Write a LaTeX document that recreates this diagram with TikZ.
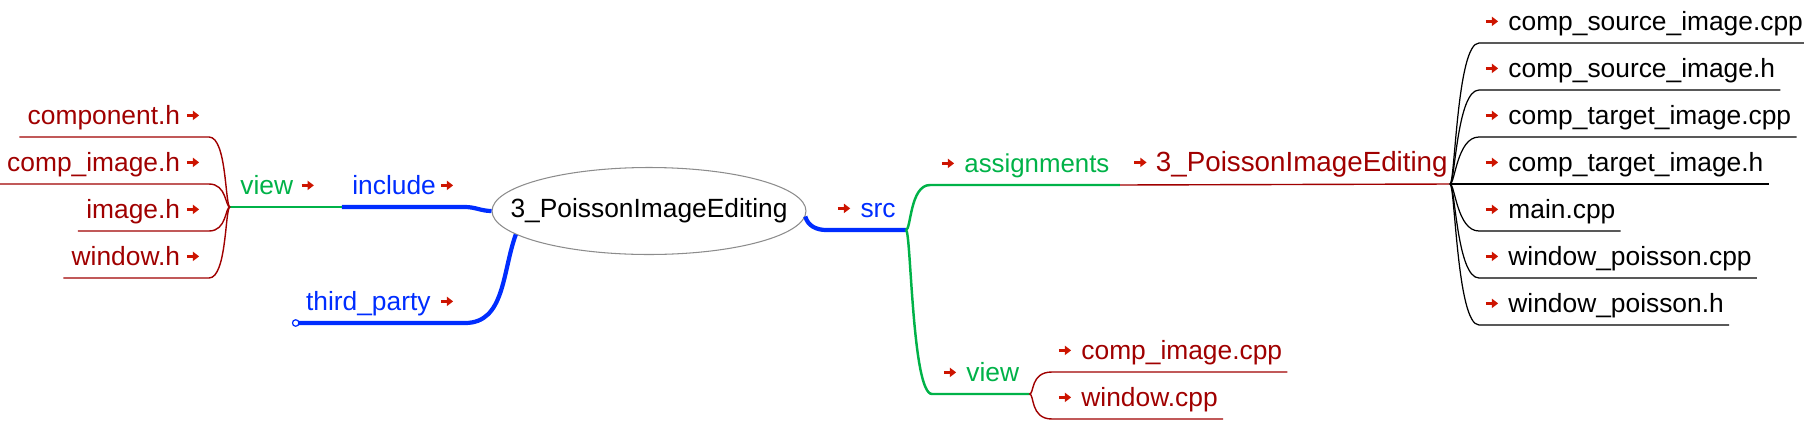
\documentclass[tikz,border=0pt]{standalone}
\usepackage{fontspec}
\setmainfont{Liberation Sans}
\usetikzlibrary{arrows.meta,shapes.geometric}

\definecolor{leafred}{RGB}{160,0,0}
\definecolor{tipred}{RGB}{205,20,0}
\definecolor{brgreen}{RGB}{0,178,72}
\definecolor{trblue}{RGB}{0,45,255}
\definecolor{rimgray}{RGB}{140,140,140}

% small link arrow beside a topic
\newcommand{\lnk}{\tikz[baseline=0pt]\draw[line width=1.7pt, tipred, -{Triangle[length=3.6pt,width=5.2pt]}] (0pt,5pt) -- (7pt,5pt);}

\begin{document}
\begin{tikzpicture}[
  x=0.02cm, y=-0.02cm,
  % Node styles
  topic/.style={font=\fontsize{15}{18}\selectfont, inner ysep=0pt, text height=11pt, text depth=7.1pt},
  root/.style={ellipse, draw=rimgray, line width=0.6pt, minimum width=6.28cm, minimum height=1.74cm, inner xsep=-0.55cm, inner ysep=0pt, font=\fontsize{15}{18}\selectfont},
  folder/.style={topic, text=trblue, inner xsep=0.2cm},
  sub/.style={topic, text=brgreen, inner xsep=0.2cm},
  leaf/.style={topic, text=leafred, inner xsep=0.1cm},
  file/.style={topic, text=black, inner xsep=0.1cm},
  % Edge styles
  trunk/.style={trblue, line width=2.4pt},
  branch/.style={brgreen, line width=1.4pt},
  twig/.style={leafred, line width=0.8pt},
  filetwig/.style={black, line width=0.7pt},
]
\useasboundingbox (0,0) rectangle (1804,420);

% === CENTER ===
\node[root] (root) at (649,211) {3\_PoissonImageEditing};

% === LEFT SIDE ===
\node[folder, anchor=south east] (inc) at (465,207) {include\hspace{2pt}\lnk};
\node[sub, anchor=south west]    (viewL) at (230,207) {view\hspace{4pt}\lnk};
\node[folder, anchor=south east] (tp)  at (465,323) {third\_party\hspace{5pt}\lnk};

\node[leaf, inner xsep=0.16cm, anchor=south east] (compH) at (209,137) {component.h\hspace{3pt}\lnk};
\node[leaf, inner xsep=0.16cm, anchor=south east] (cimgH) at (209,184) {comp\_image.h\hspace{3pt}\lnk};
\node[leaf, inner xsep=0.16cm, anchor=south east] (imgH)  at (209,231) {image.h\hspace{3pt}\lnk};
\node[leaf, inner xsep=0.16cm, anchor=south east] (winH)  at (209,278) {window.h\hspace{3pt}\lnk};

% === RIGHT SIDE ===
\node[folder, anchor=south east] (src) at (906,230) {\lnk\hspace{5pt}src};
\node[sub, font=\fontsize{14.7}{18}\selectfont, anchor=south west] (asg) at (930,185) {\lnk\hspace{5pt}assignments};
\node[leaf, font=\fontsize{15.8}{18}\selectfont, inner xsep=0.04cm, anchor=south east] (pie) at (1450,184) {\lnk\hspace{4.5pt}3\_PoissonImageEditing};
\node[sub, anchor=south west] (viewR) at (932,394) {\lnk\hspace{5pt}view};

\node[file, anchor=south west] (csCpp) at (1479,43)  {\lnk\hspace{5pt}comp\_source\_image.cpp};
\node[file, anchor=south west] (csH)   at (1479,90)  {\lnk\hspace{5pt}comp\_source\_image.h};
\node[file, anchor=south west] (ctCpp) at (1479,137) {\lnk\hspace{5pt}comp\_target\_image.cpp};
\node[file, anchor=south west] (ctH)   at (1479,184) {\lnk\hspace{5pt}comp\_target\_image.h};
\node[file, anchor=south west] (mainC) at (1479,231) {\lnk\hspace{5pt}main.cpp};
\node[file, anchor=south west] (wpCpp) at (1479,278) {\lnk\hspace{5pt}window\_poisson.cpp};
\node[file, anchor=south west] (wpH)   at (1479,325) {\lnk\hspace{5pt}window\_poisson.h};

\node[leaf, anchor=south west] (cimgC) at (1052,372) {\lnk\hspace{5pt}comp\_image.cpp};
\node[leaf, anchor=south west] (winC)  at (1052,419) {\lnk\hspace{5pt}window.cpp};

% ============================================================
% LEFT CONNECTORS
% ============================================================
\draw[trunk] (root.west) to[out=180, in=0] (inc.south east) -- (inc.south west);
\draw[branch] (inc.south west) -- (viewL.south west);
\draw[trunk] (root.190) to[out=250, in=0] (tp.south east) -- (tp.south west);
\draw[trblue, line width=0.7pt, fill=white] (tp.south west) circle[radius=0.065cm];

\draw[twig] (viewL.south west) .. controls +(-5,0) and +(18,0) .. (compH.south east) -- (compH.south west);
\draw[twig] (viewL.south west) .. controls +(-5,0) and +(18,0) .. (cimgH.south east) -- (cimgH.south west);
\draw[twig] (viewL.south west) .. controls +(-5,0) and +(18,0) .. (imgH.south east) -- (imgH.south west);
\draw[twig] (viewL.south west) .. controls +(-5,0) and +(18,0) .. (winH.south east) -- (winH.south west);

% ============================================================
% RIGHT CONNECTORS
% ============================================================
\draw[trunk] (root.358) to[out=-75, in=180] (src.south west) -- (src.south east);
\draw[branch] (src.south east) .. controls +(5,0) and +(-20,0) .. (asg.south west) -- (asg.south east);
\draw[branch] (src.south east) .. controls +(5,0) and +(-20,0) .. (viewR.south west) -- (viewR.south east);
\draw[twig] (asg.south east) -- (pie.south east);

\draw[filetwig] (pie.south east) .. controls +(5,0) and +(-22,0) .. (csCpp.south west) -- (csCpp.south east);
\draw[filetwig] (pie.south east) .. controls +(5,0) and +(-22,0) .. (csH.south west) -- (csH.south east);
\draw[filetwig] (pie.south east) .. controls +(5,0) and +(-22,0) .. (ctCpp.south west) -- (ctCpp.south east);
\draw[filetwig] (pie.south east) -- (ctH.south west) -- (ctH.south east);
\draw[filetwig] (pie.south east) .. controls +(5,0) and +(-22,0) .. (mainC.south west) -- (mainC.south east);
\draw[filetwig] (pie.south east) .. controls +(5,0) and +(-22,0) .. (wpCpp.south west) -- (wpCpp.south east);
\draw[filetwig] (pie.south east) .. controls +(5,0) and +(-22,0) .. (wpH.south west) -- (wpH.south east);

\draw[twig] (viewR.south east) .. controls +(5,0) and +(-22,0) .. (cimgC.south west) -- (cimgC.south east);
\draw[twig] (viewR.south east) .. controls +(5,0) and +(-22,0) .. (winC.south west) -- (winC.south east);

\end{tikzpicture}
\end{document}
